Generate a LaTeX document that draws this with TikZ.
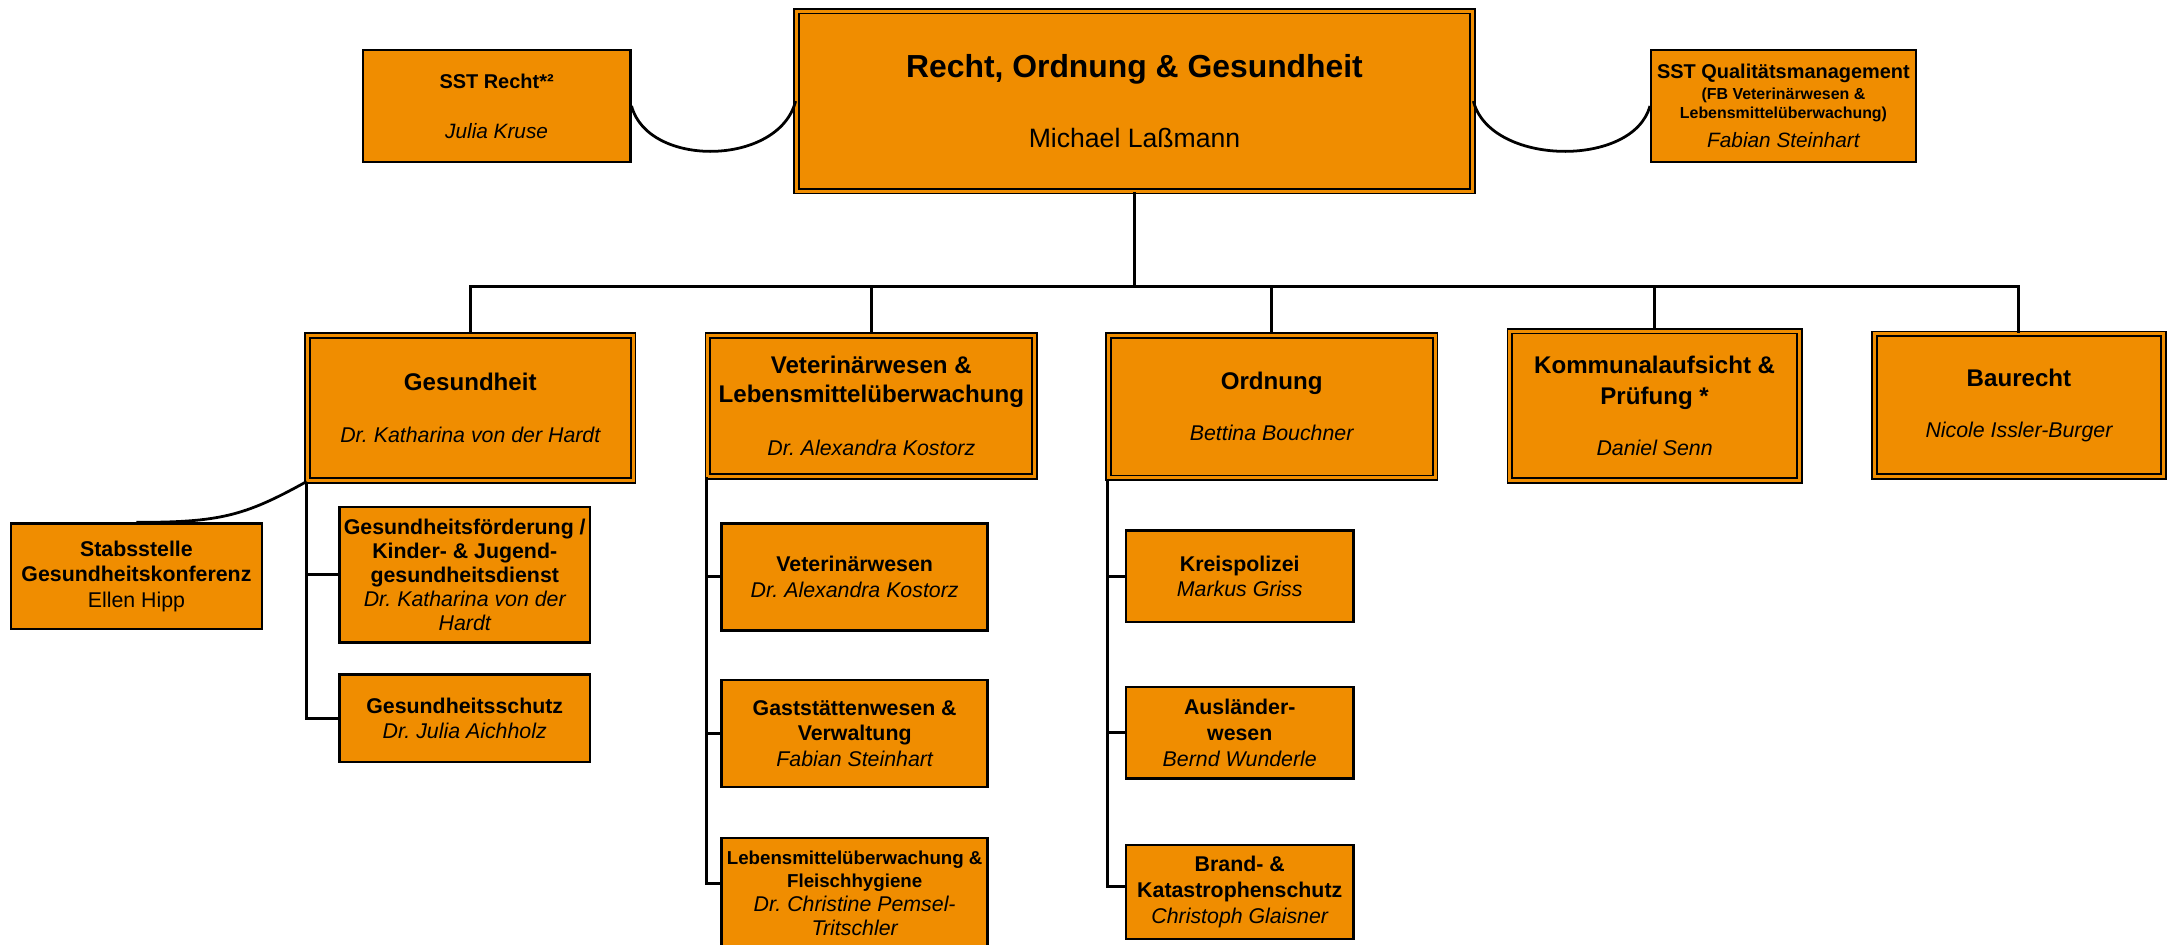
\documentclass[tikz,border=0pt]{standalone}
\usepackage{fontspec}
\setmainfont{Liberation Sans}
\frenchspacing
\definecolor{boxor}{RGB}{240,141,0}
\newcommand\LvTitle{\fontsize{17.4}{19}\selectfont\bfseries}
\begin{document}
\frenchspacing
\begin{tikzpicture}[x=1pt,y=-1pt,
  box/.style={draw=black, line width=1.8pt, fill=boxor, inner sep=0pt, align=center},
  dbox/.style={draw=black, line width=1.3pt, double=boxor, double distance=2.2pt, fill=boxor, inner sep=0pt, align=center},
  lvfont/.style={font=\fontsize{15.4}{19}\selectfont},
  chfont/.style={font=\fontsize{15.4}{18.5}\selectfont},
  conn/.style={line width=2.2pt},
  bow/.style={line width=2pt}]
\useasboundingbox (0,0) rectangle (1568,682);

% top
\node[dbox, minimum width=488pt, minimum height=130pt, font=\fontsize{19.2}{23}\selectfont] (main) at (819,73)
  {{\fontsize{23}{23}\selectfont\bfseries Recht, Ordnung \& Gesundheit}\\[27pt]{Michael Laßmann}};
\node[box, minimum width=193pt, minimum height=81pt, font=\fontsize{15}{17}\selectfont] (sstr) at (358.5,76.5)
  {{\fontsize{14.4}{17}\selectfont\bfseries SST Recht*²}\\[19pt]{\itshape Julia Kruse}};
\node[box, minimum width=191pt, minimum height=81pt, font=\fontsize{11.5}{14}\selectfont] (sstq) at (1287.5,76.5)
  {{\fontsize{14.4}{14}\selectfont\bfseries SST Qualitätsmanagement}\\[1pt]{\bfseries (FB Veterinärwesen \&}\\{\bfseries Lebensmittelüberwachung)}\\[7pt]{\fontsize{15}{14}\selectfont\itshape Fabian Steinhart}};

% level 2
\node[dbox, lvfont, minimum width=235pt, minimum height=105pt] (ges) at (339.5,294.5)
  {{\LvTitle Gesundheit}\\[18pt]{\itshape Dr. Katharina von der Hardt}};
\node[dbox, lvfont, minimum width=236pt, minimum height=102pt] (vet) at (629,293)
  {{\LvTitle Veterinärwesen \&}\\[2pt]{\LvTitle Lebensmittelüberwachung}\\[19pt]{\itshape Dr. Alexandra Kostorz}};
\node[dbox, lvfont, minimum width=236pt, minimum height=103pt] (ord) at (918,293.5)
  {{\LvTitle Ordnung}\\[18pt]{\itshape Bettina Bouchner}};
\node[dbox, lvfont, minimum width=209pt, minimum height=108pt] (kom) at (1194.5,293)
  {{\LvTitle Kommunalaufsicht \&}\\[3pt]{\LvTitle Prüfung *}\\[18pt]{\itshape Daniel Senn}};
\node[dbox, lvfont, minimum width=209pt, minimum height=103pt] (bau) at (1457.5,292.5)
  {{\LvTitle Baurecht}\\[18pt]{\itshape Nicole Issler-Burger}};

% Gesundheit children
\node[box, chfont, minimum width=181pt, minimum height=76pt] (stab) at (98.5,416)
  {{\bfseries Stabsstelle}\\{\bfseries Gesundheitskonferenz}\\{Ellen Hipp}};
\node[box, font=\fontsize{15.4}{17.5}\selectfont, minimum width=181pt, minimum height=98pt] (gf) at (335.5,415)
  {{\bfseries Gesundheitsförderung /}\\{\bfseries Kinder- \& Jugend-}\\{\bfseries gesundheitsdienst}\\{\itshape Dr. Katharina von der}\\{\itshape Hardt}};
\node[box, chfont, minimum width=181pt, minimum height=63pt] (gs) at (335.5,518.5)
  {{\bfseries Gesundheitsschutz}\\{\itshape Dr. Julia Aichholz}};

% Veterinaer children
\node[box, chfont, minimum width=192pt, minimum height=77pt] (vw) at (617,416.5)
  {{\bfseries Veterinärwesen}\\{\itshape Dr. Alexandra Kostorz}};
\node[box, chfont, minimum width=192pt, minimum height=77pt] (gw) at (617,529.5)
  {{\bfseries Gaststättenwesen \&}\\{\bfseries Verwaltung}\\{\itshape Fabian Steinhart}};
\node[box, font=\fontsize{15.4}{17.5}\selectfont, minimum width=192pt, minimum height=80pt] (lf) at (617,645)
  {{\fontsize{13.5}{16}\selectfont\bfseries Lebensmittelüberwachung \&}\\[-1pt]{\fontsize{13.5}{16}\selectfont\bfseries Fleischhygiene}\\{\itshape Dr. Christine Pemsel-}\\{\itshape Tritschler}};

% Ordnung children
\node[box, chfont, minimum width=164pt, minimum height=66pt] (kp) at (895,416)
  {{\bfseries Kreispolizei}\\{\itshape Markus Griss}};
\node[box, chfont, minimum width=164pt, minimum height=66pt] (aw) at (895,529)
  {{\bfseries Ausländer-}\\{\bfseries wesen}\\{\itshape Bernd Wunderle}};
\node[box, chfont, minimum width=164pt, minimum height=68pt] (bk) at (895,644)
  {{\bfseries Brand- \&}\\{\bfseries Katastrophenschutz}\\{\itshape Christoph Glaisner}};

% connectors
\coordinate (bus) at (819,207);
\draw[conn] (main.south) -- (bus);
\draw[conn] (bus) -| (ges.north);
\draw[conn] (bus) -| (vet.north);
\draw[conn] (bus) -| (ord.north);
\draw[conn] (bus) -| (kom.north);
\draw[conn] (bus) -| (bau.north);

\draw[conn] (ges.south west) |- (gf.west);
\draw[conn] (ges.south west) |- (gs.west);
\draw[conn] (vet.south west) |- (vw.west);
\draw[conn] (vet.south west) |- (gw.west);
\draw[conn] (vet.south west) |- ([yshift=7pt]lf.west);
\draw[conn] (ord.south west) |- (kp.west);
\draw[conn] (ord.south west) |- (aw.west);
\draw[conn] (ord.south west) |- ([yshift=4pt]bk.west);

\draw[bow] (ges.south west) .. controls +(-45,25) and +(60,0) .. (stab.north);
\draw[bow] (sstr.east) .. controls +(12,45) and +(-12,47) .. (main.west);
\draw[bow] (main.east) .. controls +(12,47) and +(-12,45) .. (sstq.west);
\end{tikzpicture}
\end{document}
